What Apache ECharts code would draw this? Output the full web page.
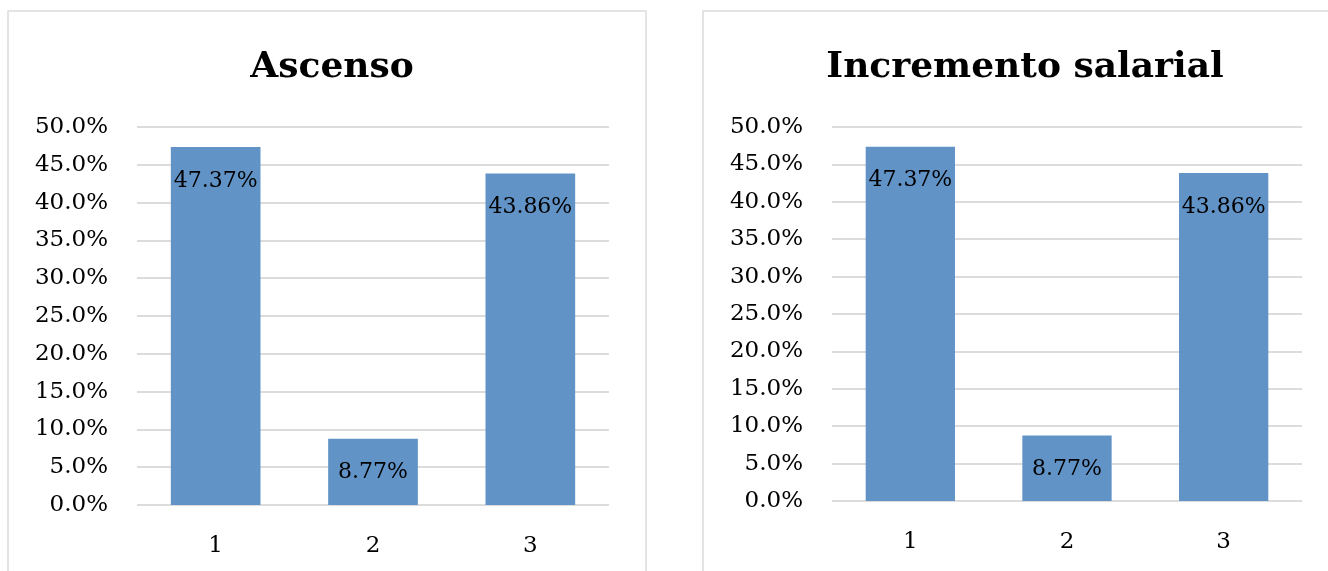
<!DOCTYPE html>
<html>
<head>
<meta charset="utf-8">
<script src="https://cdn.jsdelivr.net/npm/echarts@6/dist/echarts.min.js"></script>
<style>
html,body{margin:0;padding:0;background:#fff;}
#c{width:1328px;height:571px;}
</style>
</head>
<body>
<div id="c"></div>
<script>
const categories = ['1', '2', '3'];
const titles = ['Ascenso', 'Incremento salarial'];
const ascensoValues = [47.37, 8.77, 43.86];
const incrementoValues = [47.37, 8.77, 43.86];
const yMin = 0, yMax = 50, yStep = 5;

const FONT = "'DejaVu Serif', 'Liberation Serif', serif";
const BAR = '#6193C7';
const GRID = '#DCDCDC';

const chart = echarts.init(document.getElementById('c'));

function yAxis(i) {
  return {
    type: 'value', gridIndex: i, min: yMin, max: yMax, interval: yStep,
    axisLine: {show: false}, axisTick: {show: false},
    splitLine: {lineStyle: {color: GRID, width: 2}},
    axisLabel: {
      margin: 29, color: '#000', fontFamily: FONT, fontSize: 23,
      formatter: v => v.toFixed(1) + '%'
    }
  };
}
function xAxis(i) {
  return {
    type: 'category', gridIndex: i, data: categories,
    axisLine: {show: false}, axisTick: {show: false},
    axisLabel: {margin: 30, color: '#000', fontFamily: FONT, fontSize: 23}
  };
}
function series(i, data) {
  return {
    type: 'bar', xAxisIndex: i, yAxisIndex: i, data: data,
    barCategoryGap: '43%',
    itemStyle: {color: BAR},
    label: {
      show: true, position: 'insideTop', distance: 23,
      color: '#000', fontFamily: FONT, fontSize: 22,
      formatter: p => p.value.toFixed(2) + '%'
    }
  };
}

chart.setOption({
  animation: false,
  title: [
    {text: titles[0], left: 327, top: 63, textAlign: 'center', textVerticalAlign: 'middle',
     textStyle: {fontFamily: FONT, fontWeight: 'bold', fontSize: 36, color: '#000'}},
    {text: titles[1], left: 1020, top: 63, textAlign: 'center', textVerticalAlign: 'middle',
     textStyle: {fontFamily: FONT, fontWeight: 'bold', fontSize: 36, color: '#000'}}
  ],
  graphic: [
    {type: 'rect', shape: {x: 8, y: 11, width: 638, height: 600},
     style: {fill: 'none', stroke: GRID, lineWidth: 1.5}, z: -1},
    {type: 'rect', shape: {x: 703, y: 11, width: 640, height: 600},
     style: {fill: 'none', stroke: GRID, lineWidth: 1.5}, z: -1}
  ],
  grid: [
    {left: 137, top: 127, width: 472, height: 378},
    {left: 832, top: 127, width: 470, height: 374}
  ],
  xAxis: [xAxis(0), xAxis(1)],
  yAxis: [yAxis(0), yAxis(1)],
  series: [series(0, ascensoValues), series(1, incrementoValues)]
});
</script>
</body>
</html>
